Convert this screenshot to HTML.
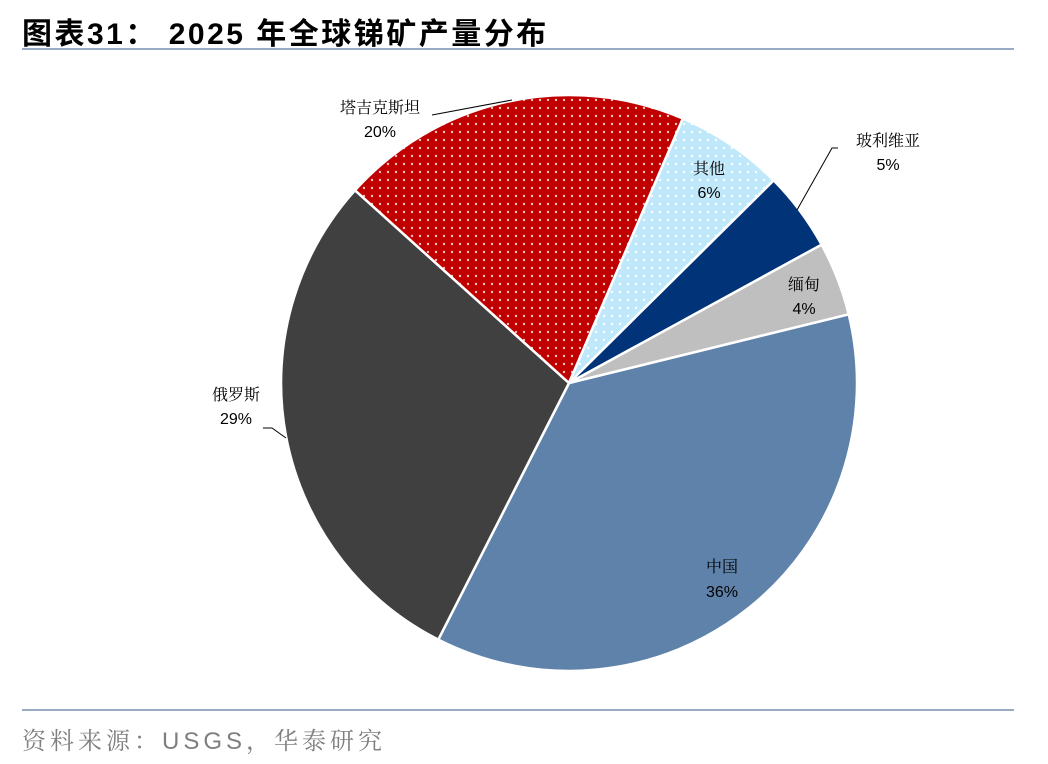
<!DOCTYPE html>
<html><head><meta charset="utf-8"><style>
body{margin:0;width:1048px;height:764px;background:#fff;overflow:hidden;font-family:"Liberation Sans","Noto Sans CJK SC",sans-serif;}
.t{position:absolute;left:22px;top:9px;font-size:30px;font-weight:bold;color:#000;letter-spacing:2.5px;font-family:"Liberation Sans","Noto Sans CJK SC",sans-serif;}
.l{position:absolute;left:22px;width:992px;height:2px;background:#99abc4;}
.s{position:absolute;left:22px;top:721px;font-size:24px;color:#7f7f7f;letter-spacing:4px;font-family:"Liberation Sans","Noto Serif CJK SC",serif;}
</style></head><body>
<div class="t">图表31： 2025 年全球锑矿产量分布</div>
<div class="l" style="top:48px"></div>
<div class="l" style="top:709px"></div>
<div class="s">资料来源：USGS，华泰研究</div>
<svg width="1048" height="764" style="position:absolute;left:0;top:0">
<defs>
<pattern id="dr" width="8" height="8" patternUnits="userSpaceOnUse"><rect width="8" height="8" fill="#c00000"/><circle cx="4" cy="4" r="1.2" fill="#f3c0c0"/></pattern>
<pattern id="db" width="8" height="8" patternUnits="userSpaceOnUse"><rect width="8" height="8" fill="#bfe8fa"/><circle cx="4" cy="4" r="1.2" fill="#fff"/></pattern>
</defs>
<g stroke="#fff" stroke-width="2.5" stroke-linejoin="round">
<path d="M569,383 L848.7,314.3 A288,288 0 0,1 438.3,639.6 Z" fill="#5f82aa"/>
<path d="M569,383 L438.3,639.6 A288,288 0 0,1 355,190.3 Z" fill="#404040"/>
<path d="M569,383 L355,190.3 A288,288 0 0,1 682.9,118.5 Z" fill="url(#dr)"/>
<path d="M569,383 L682.9,118.5 A288,288 0 0,1 773.7,180.4 Z" fill="url(#db)"/>
<path d="M569,383 L773.7,180.4 A288,288 0 0,1 821.6,244.7 Z" fill="#003378"/>
<path d="M569,383 L821.6,244.7 A288,288 0 0,1 848.7,314.3 Z" fill="#bfbfbf"/>
</g>
<g fill="none" stroke="#000" stroke-width="1">
<polyline points="432,115 512,100"/>
<polyline points="797,210 832,148 838,148"/>
<polyline points="263,428 272,428 286,438"/>
</g>
<g font-size="16" fill="#000" text-anchor="middle" font-family="Liberation Sans,Noto Serif CJK SC,serif">
<text x="380" y="113">塔吉克斯坦</text><text x="380" y="137">20%</text>
<text x="709" y="174">其他</text><text x="709" y="198">6%</text>
<text x="888" y="146">玻利维亚</text><text x="888" y="170">5%</text>
<text x="804" y="290">缅甸</text><text x="804" y="314">4%</text>
<text x="236" y="400">俄罗斯</text><text x="236" y="424">29%</text>
<text x="722" y="572">中国</text><text x="722" y="597">36%</text>
</g>
</svg>
</body></html>
